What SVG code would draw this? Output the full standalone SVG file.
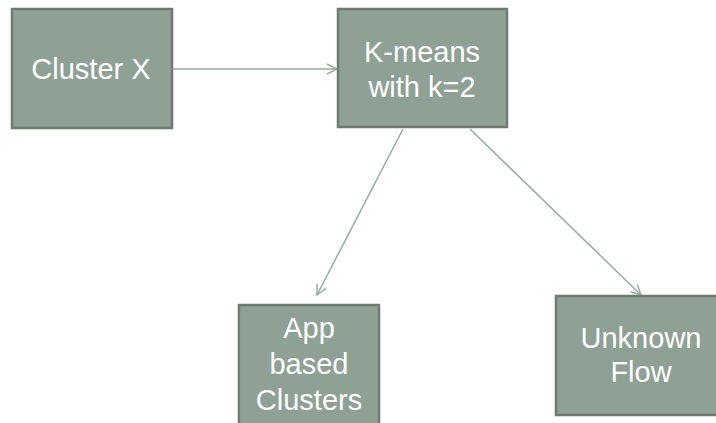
<svg xmlns="http://www.w3.org/2000/svg" width="716" height="423" viewBox="0 0 716 423">
<defs>
<style>
.box{fill:#8fa095;stroke:#6d7b71;stroke-width:2.5}
.t{font-family:"Liberation Sans",Arial,sans-serif;font-size:29px;fill:#ffffff;text-anchor:middle}
.c{stroke:#9aaaa0;stroke-width:1.5;fill:none;marker-end:url(#ah)}
</style>
<marker id="ah" viewBox="0 0 12 12" refX="11" refY="6" markerWidth="12" markerHeight="12" markerUnits="userSpaceOnUse" orient="auto">
<path d="M1,1 L11,6 L1,11" fill="none" stroke="#9aaaa0" stroke-width="1.5"/>
</marker>
</defs>
<rect width="716" height="423" fill="#ffffff"/>
<g id="connectors">
<line class="c" x1="173" y1="69" x2="337" y2="69"/>
<line class="c" x1="403" y1="129" x2="317" y2="295"/>
<line class="c" x1="470" y1="129" x2="641" y2="295"/>
</g>
<g id="cluster-x">
<rect class="box" x="12" y="9" width="160" height="119"/>
<text class="t" x="91" y="79">Cluster X</text>
</g>
<g id="kmeans">
<rect class="box" x="338" y="9" width="169" height="118"/>
<text class="t" x="422" y="62">K-means</text>
<text class="t" x="422" y="97">with k=2</text>
</g>
<g id="app-clusters">
<rect class="box" x="239" y="305" width="140" height="130"/>
<text class="t" x="309" y="338">App</text>
<text class="t" x="309" y="374">based</text>
<text class="t" x="309" y="410">Clusters</text>
</g>
<g id="unknown-flow">
<rect class="box" x="556" y="296" width="170" height="119"/>
<text class="t" x="641" y="348">Unknown</text>
<text class="t" x="641" y="382">Flow</text>
</g>
</svg>
